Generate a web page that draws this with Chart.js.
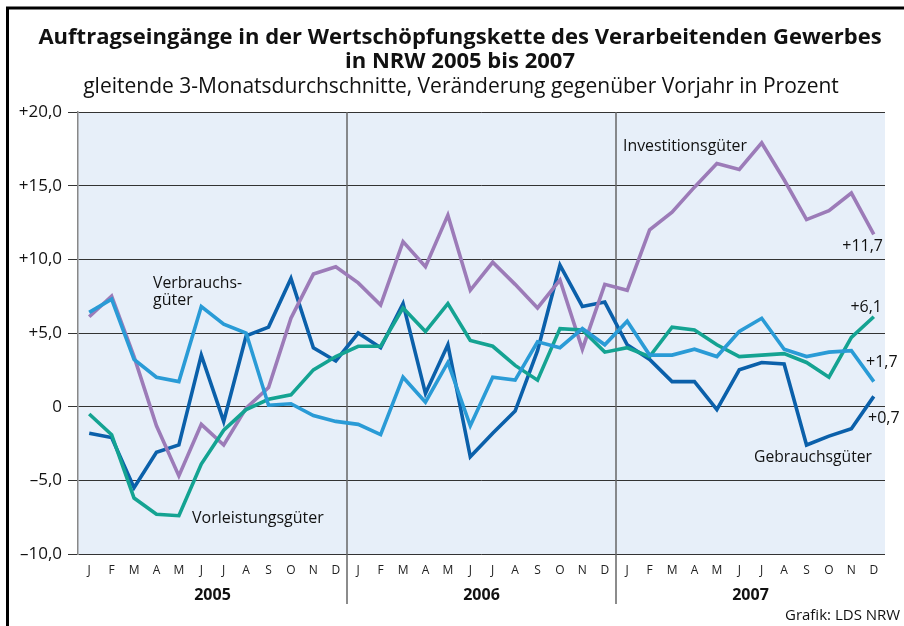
<!DOCTYPE html>
<html>
<head>
<meta charset="utf-8">
<script src="https://cdn.jsdelivr.net/npm/chart.js@4/dist/chart.umd.min.js"></script>
<style>
html,body{margin:0;padding:0;background:#fff;}
canvas{display:block;}
</style>
</head>
<body>
<canvas id="c" width="904" height="626"></canvas>
<script>
const months = ['J','F','M','A','M','J','J','A','S','O','N','D',
                'J','F','M','A','M','J','J','A','S','O','N','D',
                'J','F','M','A','M','J','J','A','S','O','N','D'];
const years = ['2005','2006','2007'];
const yTicks = [-10,-5,0,5,10,15,20];

const investitionsgueter = [6.1,7.5,3.4,-1.3,-4.7,-1.2,-2.6,-0.1,1.3,6.0,9.0,9.5,
                            8.4,6.9,11.2,9.5,13.0,7.9,9.8,8.3,6.7,8.6,3.9,8.3,
                            7.9,12.0,13.2,14.9,16.5,16.1,17.9,15.4,12.7,13.3,14.5,11.7];
const verbrauchsgueter = [6.4,7.3,3.2,2.0,1.7,6.8,5.6,5.0,0.1,0.2,-0.6,-1.0,
                          -1.2,-1.9,2.0,0.3,3.0,-1.3,2.0,1.8,4.4,4.0,5.3,4.2,
                          5.8,3.5,3.5,3.9,3.4,5.1,6.0,3.9,3.4,3.7,3.8,1.7];
const vorleistungsgueter = [-0.5,-1.9,-6.2,-7.3,-7.4,-3.9,-1.6,-0.2,0.5,0.8,2.5,3.4,
                            4.1,4.1,6.7,5.1,7.0,4.5,4.1,2.8,1.8,5.3,5.2,3.7,
                            4.0,3.4,5.4,5.2,4.2,3.4,3.5,3.6,3.0,2.0,4.7,6.1];
const gebrauchsgueter = [-1.8,-2.1,-5.5,-3.1,-2.6,3.5,-1.0,4.8,5.4,8.7,4.0,3.1,
                         5.0,4.0,7.0,0.9,4.2,-3.4,-1.8,-0.3,3.8,9.6,6.8,7.1,
                         4.2,3.2,1.7,1.7,-0.2,2.5,3.0,2.9,-2.6,-2.0,-1.5,0.7];

const FONT = '"Open Sans", "Noto Sans", sans-serif';
Chart.defaults.font.family = FONT;

function fmtTick(v){
  if (v === 0) return '0';
  const s = Math.abs(v).toFixed(1).replace('.', ',');
  return (v > 0 ? '+' : '\u2013') + s;
}

const decor = {
  id: 'decor',
  beforeDraw(chart){
    const {ctx, chartArea:a} = chart;
    ctx.save();
    ctx.fillStyle = '#fff';
    ctx.fillRect(0,0,chart.width,chart.height);
    ctx.fillStyle = '#e7eff9';
    ctx.fillRect(a.left, a.top, a.right - a.left, a.bottom - a.top);
    ctx.restore();
  },
  beforeDatasetsDraw(chart){
    const {ctx, chartArea:a, scales:{x}} = chart;
    ctx.save();
    ctx.strokeStyle = '#666';
    ctx.lineWidth = 1.5;
    for (let k = 1; k < years.length; k++){
      const px = (x.getPixelForValue(k*12-1) + x.getPixelForValue(k*12)) / 2;
      ctx.beginPath();
      ctx.moveTo(px, a.top);
      ctx.lineTo(px, 604);
      ctx.stroke();
    }
    ctx.restore();
  },
  afterDraw(chart){
    const {ctx, scales:{x}} = chart;
    ctx.save();
    // frame
    ctx.strokeStyle = '#000';
    ctx.lineWidth = 3;
    ctx.beginPath();
    ctx.moveTo(904, 8);
    ctx.lineTo(7.5, 8);
    ctx.lineTo(7.5, 626);
    ctx.stroke();

    ctx.fillStyle = '#111';
    ctx.textAlign = 'center';
    ctx.textBaseline = 'alphabetic';
    ctx.font = 'bold 22px ' + FONT;
    ctx.fillText('Auftragseingänge in der Wertschöpfungskette des Verarbeitenden Gewerbes', 460, 44, 856);
    ctx.fillText('in NRW 2005 bis 2007', 460, 68);
    ctx.font = '21px ' + FONT;
    ctx.fillText('gleitende 3-Monatsdurchschnitte, Veränderung gegenüber Vorjahr in Prozent', 461, 93, 778);

    // year labels
    ctx.font = 'bold 16px ' + FONT;
    ctx.textBaseline = 'middle';
    years.forEach((yr, k) => {
      const px = (x.getPixelForValue(k*12+5) + x.getPixelForValue(k*12+6)) / 2;
      ctx.fillText(yr, px, 595);
    });

    // series labels
    ctx.font = '16px ' + FONT;
    ctx.textAlign = 'left';
    ctx.fillText('Verbrauchs-', 153, 283, 89);
    ctx.fillText('güter', 153, 300);
    ctx.fillText('Vorleistungsgüter', 192, 518, 132);
    ctx.fillText('Investitionsgüter', 623, 146, 124);
    ctx.fillText('Gebrauchsgüter', 754, 457, 118);
    ctx.fillText('+1,7', 866, 362);
    ctx.fillText('+0,7', 868, 418);
    ctx.textAlign = 'right';
    ctx.fillText('+11,7', 883, 246);
    ctx.fillText('+6,1', 882, 307);
    ctx.textAlign = 'left';
    ctx.font = '15px ' + FONT;
    ctx.fillText('Grafik: LDS NRW', 785, 616);
    ctx.restore();
  }
};

function ds(label, data, color){
  return {label, data, borderColor: color, backgroundColor: color, borderWidth: 3.6,
          pointRadius: 0, tension: 0, fill: false, borderJoinStyle: 'miter'};
}

new Chart(document.getElementById('c'), {
  type: 'line',
  data: {
    labels: months,
    datasets: [
      ds('Verbrauchsgüter', verbrauchsgueter, '#2a9bd6'),
      ds('Vorleistungsgüter', vorleistungsgueter, '#14a392'),
      ds('Investitionsgüter', investitionsgueter, '#9c7bb8'),
      ds('Gebrauchsgüter', gebrauchsgueter, '#0b60aa')
    ]
  },
  options: {
    responsive: false,
    animation: false,
    devicePixelRatio: 1,
    layout: {padding: {left: 0, top: 112, right: 19, bottom: 0}},
    plugins: {legend: {display: false}, tooltip: {enabled: false}, title: {display: false}},
    scales: {
      x: {
        type: 'category',
        offset: true,
        grid: {display: false, drawTicks: false},
        border: {display: false},
        ticks: {autoSkip: false, maxRotation: 0, minRotation: 0, padding: 9,
                color: '#222', font: {size: 12}},
        afterFit(s){ s.height = 72; }
      },
      y: {
        min: -10, max: 20,
        afterBuildTicks(s){ s.ticks = yTicks.map(v => ({value: v})); },
        ticks: {callback: (v) => fmtTick(v), color: '#111', font: {size: 17}, padding: 6},
        grid: {color: '#333', lineWidth: 1, tickLength: 10, drawTicks: true},
        border: {display: true, color: '#888', width: 1.5},
        afterFit(s){ s.width = 78; }
      }
    }
  },
  plugins: [decor]
});
</script>
</body>
</html>
